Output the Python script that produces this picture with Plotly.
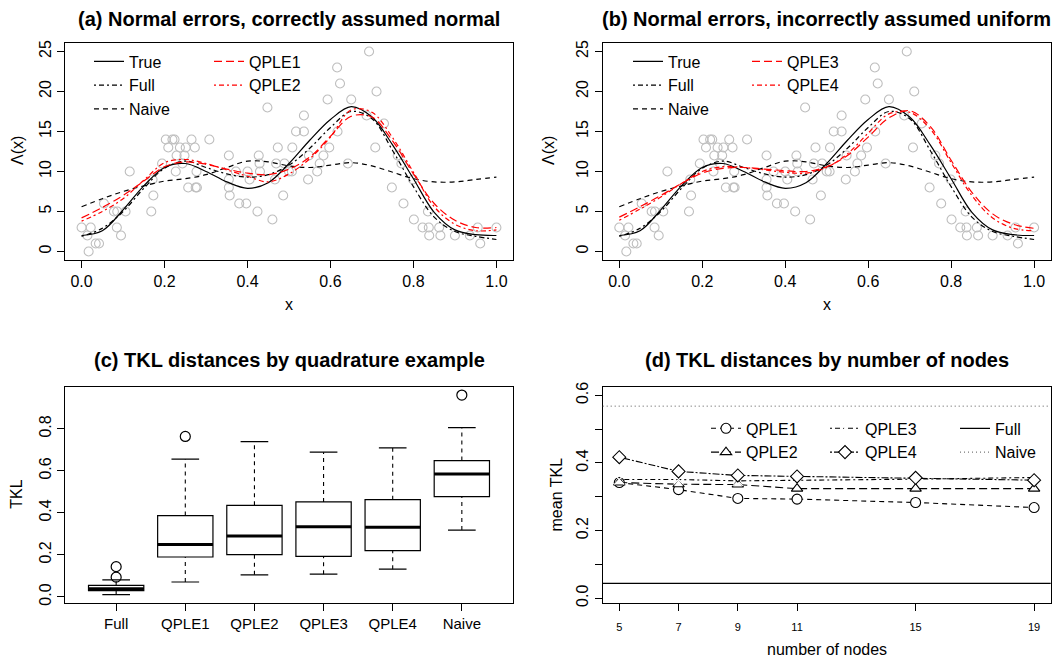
import plotly.graph_objects as go

W, H = 1060, 664
FONT = "Liberation Sans, Arial, Helvetica, sans-serif"

# ---------------- data: panels (a) and (b) ----------------
obs_x = [0.000, 0.014, 0.017, 0.022, 0.034, 0.042, 0.054, 0.078, 0.086, 0.085,
         0.095, 0.106, 0.116, 0.168, 0.171, 0.173, 0.194, 0.203, 0.209, 0.219,
         0.224, 0.227, 0.229, 0.237, 0.243, 0.248, 0.251, 0.257, 0.265, 0.273,
         0.275, 0.278, 0.277, 0.308, 0.355, 0.355, 0.355, 0.357, 0.372, 0.380,
         0.397, 0.400, 0.405, 0.424, 0.427, 0.429, 0.430, 0.448, 0.460, 0.466,
         0.469, 0.473, 0.486, 0.489, 0.500, 0.507, 0.508, 0.517, 0.536, 0.536,
         0.546, 0.548, 0.568, 0.574, 0.583, 0.593, 0.597, 0.617, 0.616, 0.623,
         0.642, 0.650, 0.687, 0.693, 0.708, 0.711, 0.729, 0.748, 0.762, 0.771,
         0.776, 0.799, 0.801, 0.822, 0.837, 0.838, 0.835, 0.865, 0.862, 0.900,
         0.936, 0.955, 0.961, 1.000]
obs_y = [3, 2, 0, 3, 1, 1, 6, 5, 5, 3,
         2, 5, 10, 5, 9, 7, 11, 14, 13, 14,
         14, 10, 12, 13, 11, 12, 13, 8, 14, 13,
         8, 8, 10, 14, 12, 9, 8, 7, 10, 6,
         6, 10, 9, 5, 12, 11, 10, 18, 4, 9,
         11, 13, 7, 11, 10, 10, 13, 15, 15, 17,
         9, 12, 10, 11, 12, 19, 13, 15, 23, 21,
         11, 19, 17, 25, 13, 20, 16, 8, 12, 11,
         6, 9, 4, 3, 3, 2, 5, 2, 3, 2,
         2, 3, 1, 3]

grid_x = [0.00, 0.05, 0.10, 0.15, 0.20, 0.25, 0.30, 0.35, 0.40, 0.45, 0.50,
          0.55, 0.60, 0.65, 0.70, 0.75, 0.80, 0.85, 0.90, 0.95, 1.00]
true_curve = [2.0, 2.6, 5.2, 8.2, 10.5, 11.0, 10.0, 8.7, 7.9, 8.6, 11.0,
              13.9, 16.5, 18.1, 16.8, 13.3, 9.1, 4.9, 2.7, 2.1, 2.0]
full_curve = [1.9, 2.9, 5.0, 7.9, 10.4, 11.3, 10.5, 9.7, 9.3, 9.6, 10.8,
              12.9, 15.5, 17.5, 16.6, 12.6, 8.1, 4.3, 2.5, 1.9, 1.5]
naive_curve = [5.6, 6.6, 7.5, 8.2, 8.8, 9.1, 9.6, 10.5, 11.3, 11.2, 10.7,
               10.5, 10.8, 11.1, 10.7, 9.9, 9.1, 8.7, 8.7, 9.0, 9.3]
qple1_curve = [4.2, 5.5, 7.0, 8.8, 10.6, 11.2, 10.9, 10.3, 9.8, 9.6, 10.3,
               11.8, 14.4, 16.9, 16.8, 13.8, 9.7, 6.0, 3.9, 3.0, 3.0]
qple2_curve = [3.8, 5.0, 6.6, 8.9, 11.1, 11.5, 11.0, 10.2, 9.4, 8.7, 9.7,
               11.6, 14.3, 17.7, 17.4, 14.2, 9.9, 5.6, 3.4, 2.6, 2.7]
qple3_curve = [4.3, 5.6, 7.0, 8.5, 9.8, 10.4, 10.5, 10.3, 10.1, 10.0, 10.6,
               12.0, 14.3, 16.7, 17.6, 15.6, 11.4, 7.4, 4.7, 3.4, 2.9]
qple4_curve = [3.9, 5.3, 6.8, 8.5, 10.0, 10.6, 10.5, 10.2, 9.9, 9.8, 10.5,
               12.2, 14.8, 17.2, 17.4, 15.3, 11.1, 7.0, 4.2, 2.9, 2.6]

# ---------------- data: panel (c) ----------------
box_labels = ["Full", "QPLE1", "QPLE2", "QPLE3", "QPLE4", "Naive"]
box_pos = [1, 2, 3, 4, 5, 6]
box_low = [0.011, 0.071, 0.105, 0.108, 0.132, 0.318]
box_q1 = [0.030, 0.190, 0.201, 0.193, 0.220, 0.477]
box_med = [0.039, 0.249, 0.290, 0.334, 0.331, 0.585]
box_q3 = [0.055, 0.387, 0.436, 0.452, 0.463, 0.649]
box_high = [0.081, 0.656, 0.739, 0.689, 0.709, 0.806]
out_pos = [1, 1, 2, 6]
out_val = [0.144, 0.094, 0.764, 0.961]

# ---------------- data: panel (d) ----------------
nodes = [5, 7, 9, 11, 15, 19]
mean_qple1 = [0.342, 0.321, 0.295, 0.293, 0.283, 0.268]
mean_qple2 = [0.342, 0.337, 0.336, 0.324, 0.324, 0.324]
mean_qple3 = [0.351, 0.351, 0.347, 0.348, 0.352, 0.357]
mean_qple4 = [0.417, 0.375, 0.363, 0.360, 0.356, 0.349]
mean_full = 0.044
mean_naive = 0.568

# ---------------- helpers ----------------
def fx(p):
    return p / W

def fy(p):
    return 1 - p / H

DASH_LTY2 = "5px,4px"
DASH_LONG = "8px,4px"
DASH_DOTDASH = "2px,3px,5px,3px"
DASH_TWODASH = "2px,2px,7px,2px"
DASH_DOT = "1px,3px"

fig = go.Figure()

def curve_panel(xa, ya, red1, red2, name1, name2, legA, legB):
    fig.add_trace(go.Scatter(x=obs_x, y=obs_y, mode="markers", xaxis=xa, yaxis=ya,
                             marker=dict(symbol="circle-open", size=9, color="#BEBEBE",
                                         line=dict(width=1.1, color="#BEBEBE")),
                             showlegend=False, hoverinfo="skip"))
    specs = [
        ("True", true_curve, "black", "solid", legA),
        ("Full", full_curve, "black", DASH_DOTDASH, legA),
        ("Naive", naive_curve, "black", DASH_LTY2, legA),
        (name1, red1, "red", DASH_LONG, legB),
        (name2, red2, "red", DASH_DOTDASH, legB),
    ]
    for nm, vals, col, dash, leg in specs:
        fig.add_trace(go.Scatter(x=grid_x, y=vals, mode="lines", name=nm,
                                 xaxis=xa, yaxis=ya, legend=leg,
                                 line=dict(color=col, width=1.2, dash=dash, shape="spline"),
                                 showlegend=True, hoverinfo="skip"))

curve_panel("x", "y", qple1_curve, qple2_curve, "QPLE1", "QPLE2", "legend", "legend2")
curve_panel("x2", "y2", qple3_curve, qple4_curve, "QPLE3", "QPLE4", "legend3", "legend4")

# ---------------- panel (c) boxplots ----------------
fig.add_trace(go.Box(x=box_pos, q1=box_q1, median=box_med, q3=box_q3,
                     lowerfence=box_q1, upperfence=box_q3, width=0.8,
                     xaxis="x3", yaxis="y3", boxpoints=False,
                     fillcolor="rgba(255,255,255,0)",
                     line=dict(color="black", width=1.2), whiskerwidth=0,
                     showlegend=False, hoverinfo="skip"))
wx, wy, cx, cy, mx, my = [], [], [], [], [], []
for p, lo, a, m, b, hi in zip(box_pos, box_low, box_q1, box_med, box_q3, box_high):
    wx += [p, p, None, p, p, None]
    wy += [lo, a, None, b, hi, None]
    cx += [p - 0.2, p + 0.2, None, p - 0.2, p + 0.2, None]
    cy += [lo, lo, None, hi, hi, None]
    mx += [p - 0.4, p + 0.4, None]
    my += [m, m, None]
fig.add_trace(go.Scatter(x=wx, y=wy, mode="lines", xaxis="x3", yaxis="y3",
                         line=dict(color="black", width=1.1, dash="4px,4px"),
                         showlegend=False, hoverinfo="skip"))
fig.add_trace(go.Scatter(x=cx, y=cy, mode="lines", xaxis="x3", yaxis="y3",
                         line=dict(color="black", width=1.2),
                         showlegend=False, hoverinfo="skip"))
fig.add_trace(go.Scatter(x=mx, y=my, mode="lines", xaxis="x3", yaxis="y3",
                         line=dict(color="black", width=3),
                         showlegend=False, hoverinfo="skip"))
fig.add_trace(go.Scatter(x=out_pos, y=out_val, mode="markers", xaxis="x3", yaxis="y3",
                         marker=dict(symbol="circle-open", size=10, color="black",
                                     line=dict(width=1.2, color="black")),
                         showlegend=False, hoverinfo="skip"))

# ---------------- panel (d) ----------------
fig.add_shape(type="line", xref="x4 domain", yref="y4", x0=0, x1=1,
              y0=mean_full, y1=mean_full, line=dict(color="black", width=1.2))
fig.add_shape(type="line", xref="x4 domain", yref="y4", x0=0, x1=1,
              y0=mean_naive, y1=mean_naive, line=dict(color="#555555", width=1, dash=DASH_DOT))

dspecs = [
    ("QPLE1", mean_qple1, "circle", DASH_LTY2, "legend5"),
    ("QPLE2", mean_qple2, "triangle-up", DASH_LONG, "legend5"),
    ("QPLE3", mean_qple3, "x-thin-open", DASH_DOTDASH, "legend6"),
    ("QPLE4", mean_qple4, "diamond", DASH_TWODASH, "legend6"),
]
for nm, vals, sym, dash, leg in dspecs:
    fig.add_trace(go.Scatter(x=nodes, y=vals, mode="lines+markers", name=nm,
                             xaxis="x4", yaxis="y4", legend=leg,
                             line=dict(color="black", width=1.1, dash=dash),
                             marker=dict(symbol=sym, size=10, color="white",
                                         line=dict(color="black", width=1.1)),
                             hoverinfo="skip"))
fig.add_trace(go.Scatter(x=[None], y=[None], mode="lines", name="Full",
                         xaxis="x4", yaxis="y4", legend="legend7",
                         line=dict(color="black", width=1.2)))
fig.add_trace(go.Scatter(x=[None], y=[None], mode="lines", name="Naive",
                         xaxis="x4", yaxis="y4", legend="legend7",
                         line=dict(color="#555555", width=1, dash=DASH_DOT)))

# ---------------- layout ----------------
def axis(dom, rng, **kw):
    d = dict(domain=dom, range=rng, showline=True, linecolor="black", linewidth=1,
             mirror=True, ticks="outside", ticklen=7, tickwidth=1, tickcolor="black",
             showgrid=False, zeroline=False,
             tickfont=dict(family=FONT, size=16, color="black"))
    d.update(kw)
    return d

top_y = [fy(258), fy(39)]
bot_y = [fy(606), fy(387.3)]
left_x = [fx(65), fx(513)]
right_x = [fx(602.7), fx(1050.7)]

yfont = dict(family=FONT, size=16, color="black")

layout = dict(
    width=W, height=H, margin=dict(l=0, r=0, t=0, b=0),
    paper_bgcolor="white", plot_bgcolor="white",
    font=dict(family=FONT, color="black"),
    xaxis=axis(left_x, [-0.04, 1.04], anchor="y", tickvals=[0, 0.2, 0.4, 0.6, 0.8, 1.0],
               ticktext=["0.0", "0.2", "0.4", "0.6", "0.8", "1.0"]),
    yaxis=axis(top_y, [-1, 26], anchor="x", tickvals=[0, 5, 10, 15, 20, 25],
               tickangle=-90, tickfont=yfont),
    xaxis2=axis(right_x, [-0.04, 1.04], anchor="y2", tickvals=[0, 0.2, 0.4, 0.6, 0.8, 1.0],
                ticktext=["0.0", "0.2", "0.4", "0.6", "0.8", "1.0"]),
    yaxis2=axis(top_y, [-1, 26], anchor="x2", tickvals=[0, 5, 10, 15, 20, 25],
                tickangle=-90, tickfont=yfont),
    xaxis3=axis(left_x, [0.26, 6.74], anchor="y3", tickvals=box_pos, ticktext=box_labels,
                tickfont=dict(family=FONT, size=15, color="black")),
    yaxis3=axis(bot_y, [-0.028, 0.999], anchor="x3", tickvals=[0, 0.2, 0.4, 0.6, 0.8],
                ticktext=["0.0", "0.2", "0.4", "0.6", "0.8"], tickangle=-90, tickfont=yfont),
    xaxis4=axis(right_x, [4.44, 19.56], anchor="y4", tickvals=nodes,
                tickfont=dict(family=FONT, size=11, color="black"), ticklabelstandoff=7),
    yaxis4=axis(bot_y, [-0.0137, 0.6245], anchor="x4",
                tickvals=[0, 0.1, 0.2, 0.3, 0.4, 0.5, 0.6],
                ticktext=["0.0", "", "0.2", "", "0.4", "", "0.6"], tickangle=-90, tickfont=yfont),
)

def leg(xp, yp):
    return dict(x=fx(xp), y=fy(yp), xanchor="left", yanchor="top",
                bgcolor="rgba(0,0,0,0)", borderwidth=0,
                font=dict(family=FONT, size=16, color="black"), tracegroupgap=0)

layout["legend"] = leg(89, 40)
layout["legend2"] = leg(209, 40)
layout["legend3"] = leg(628, 40)
layout["legend4"] = leg(747, 40)
layout["legend5"] = leg(706, 412)
layout["legend6"] = leg(825, 412)
layout["legend7"] = leg(955, 412)

fig.update_layout(**layout)

anns = [
    ("<b>(a) Normal errors, correctly assumed normal</b>", 289, 14, 20, 0),
    ("<b>(b) Normal errors, incorrectly assumed uniform</b>", 826.7, 14, 20, 0),
    ("<b>(c) TKL distances by quadrature example</b>", 289, 360, 20, 0),
    ("<b>(d) TKL distances by number of nodes</b>", 826.7, 360, 20, 0),
    ("x", 289, 304, 16, 0),
    ("x", 826.7, 304, 16, 0),
    ("number of nodes", 826.7, 653, 16, 0),
    ("Λ(x)", 18, 148, 16, -90),
    ("Λ(x)", 549, 148, 16, -90),
    ("TKL", 17, 496.5, 16, -90),
    ("mean TKL", 556.7, 496.5, 16, -90),
]
for txt, xp, yp, sz, ang in anns:
    fig.add_annotation(text=txt, x=fx(xp), y=fy(yp), xref="paper", yref="paper",
                       xanchor="center", yanchor="middle", showarrow=False,
                       textangle=ang, font=dict(family=FONT, size=sz, color="black"))

fig.write_html("out.html", config={"displayModeBar": False},
               post_script="document.body.style.margin='0px';")
